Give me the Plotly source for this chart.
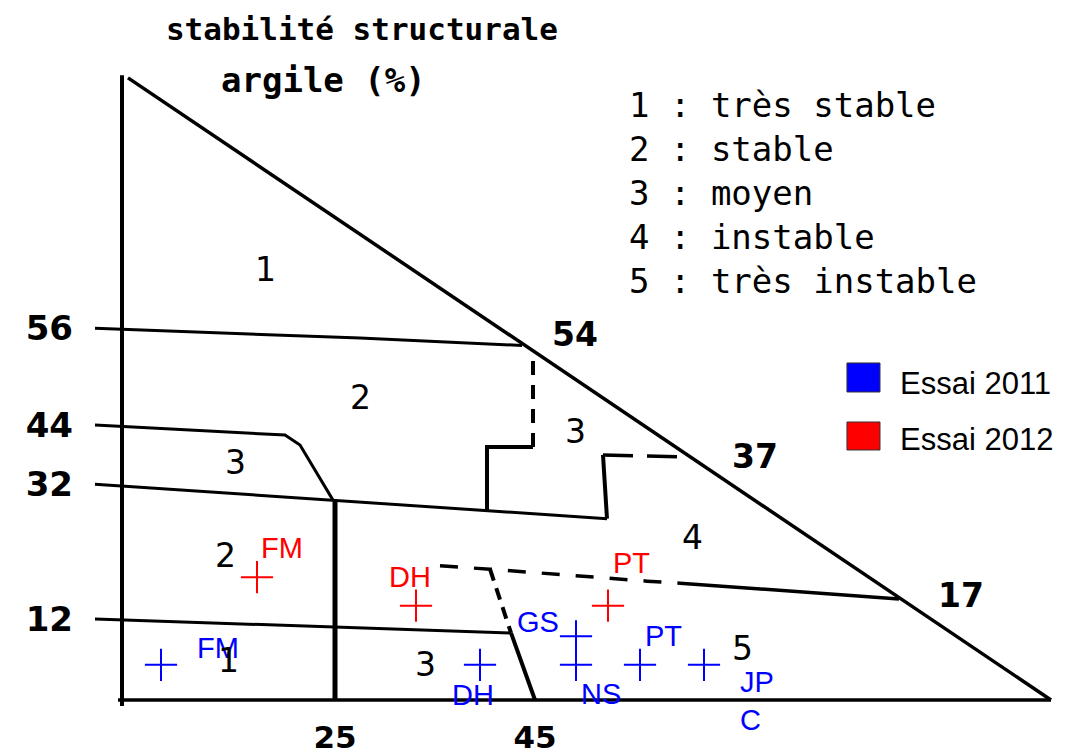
import plotly.graph_objects as go

# soil samples, limon (%) / argile (%)
sites_2011 = ["FM", "DH", "GS", "NS", "PT", "JP<br>C"]
limon_2011 = [7.6, 39.5, 49.1, 49.1, 55.5, 61.9]
argile_2011 = [5.3, 5.3, 9.6, 5.3, 5.3, 5.3]

sites_2012 = ["FM", "DH", "PT"]
limon_2012 = [17.2, 33.1, 52.3]
argile_2012 = [18.5, 14.2, 14.2]

# boundaries of the stability classes (scanned diagram, so not perfectly straight)
hyp_limon, hyp_argile = [4.3, 96.6], [93.7, 0.0]
axis_limon, axis_argile = [3.7, 3.7], [94.1, -0.9]
base_limon, base_argile = [3.3, 96.6], [0.0, 0.0]
l56_limon, l56_argile = [1.0, 27.5, 43.7], [56.0, 54.5, 53.4]
l44_limon, l44_argile = [1.0, 20.0, 21.5, 24.8], [41.4, 39.9, 38.4, 30.1]
l32_limon, l32_argile = [1.0, 25.0, 40.0, 52.2], [32.5, 30.1, 28.5, 27.3]
l12_limon, l12_argile = [1.0, 25.2, 42.6], [12.2, 11.0, 10.1]
v25_limon, v25_argile = [25.0, 25.0], [30.1, 0.0]
boxl_limon, boxl_argile = [40.2, 40.2, 44.8], [28.5, 38.1, 38.1]
boxl_dash_limon, boxl_dash_argile = [44.8, 44.8], [38.1, 52.6]
boxr_limon, boxr_argile = [52.2, 51.8], [27.3, 36.9]
boxr_dash_limon, boxr_dash_argile = [51.8, 60.2], [36.9, 36.6]
l17_dash_limon, l17_dash_argile = [35.5, 40.5, 56.2, 59.5], [20.2, 19.7, 17.9, 17.6]
l17_limon, l17_argile = [59.5, 81.4], [17.6, 15.2]
diag_dash_limon, diag_dash_argile = [40.5, 42.6], [19.7, 10.1]
diag_limon, diag_argile = [42.6, 45.0], [10.1, 0.0]

# class numbers inside the diagram
class_text = ["1", "2", "3", "3", "4", "2", "1", "3", "5"]
class_limon = [18.0, 27.5, 15.0, 49.0, 60.7, 14.0, 14.3, 34.0, 65.7]
class_argile = [64.8, 45.6, 35.8, 40.4, 24.4, 21.7, 6.0, 5.3, 7.8]

# values written along the hypotenuse
hyp_text = ["54", "37", "17"]
hyp_text_limon = [49.0, 67.0, 87.6]
hyp_text_argile = [55.0, 36.6, 15.8]

y_tickvals = [56.0, 41.4, 32.5, 12.2]
y_ticktext = ["56", "44", "32", "12"]
x_tickvals = [25, 45]
x_ticktext = ["25", "45"]

classes = ["1 : très stable", "2 : stable", "3 : moyen", "4 : instable", "5 : très instable"]

BLUE = "#0000ff"
RED = "#ff0000"
DIAG = "DejaVu Sans Mono"
NUM = "DejaVu Sans"
ARIAL = "Liberation Sans, Arial"

fig = go.Figure()


def add_line(xs, ys, width=3, dash="solid"):
    fig.add_trace(go.Scatter(
        x=xs, y=ys, mode="lines",
        line=dict(color="black", width=width, dash=dash),
        hoverinfo="skip", showlegend=False,
    ))


add_line(hyp_limon, hyp_argile, 3.5)
add_line(axis_limon, axis_argile, 4)
add_line(base_limon, base_argile, 3.5)
add_line(l56_limon, l56_argile, 3)
add_line(l44_limon, l44_argile, 3)
add_line(l32_limon, l32_argile, 3)
add_line(l12_limon, l12_argile, 3)
add_line(v25_limon, v25_argile, 5)
add_line(boxl_limon, boxl_argile, 4)
add_line(boxl_dash_limon, boxl_dash_argile, 4, "14px,10px")
add_line(boxr_limon, boxr_argile, 4)
add_line(boxr_dash_limon, boxr_dash_argile, 3.5, "30px,14px")
add_line(l17_dash_limon, l17_dash_argile, 3.5, "18px,16px")
add_line(l17_limon, l17_argile, 3.5)
add_line(diag_dash_limon, diag_dash_argile, 4, "12px,8px")
add_line(diag_limon, diag_argile, 4)

# sample crosses
for xs, ys, col in [(limon_2011, argile_2011, BLUE), (limon_2012, argile_2012, RED)]:
    fig.add_trace(go.Scatter(
        x=xs, y=ys, mode="markers",
        marker=dict(symbol="cross-thin", size=23, line=dict(color=col, width=2)),
        showlegend=False,
    ))

# sample labels, offsets in px
shift_2011 = {"FM": (57, 17), "DH": (-7, -30), "GS": (-38, 14), "NS": (25, -29),
              "PT": (23, 29), "JP<br>C": (53, -36)}
shift_2012 = {"FM": (25, 29), "DH": (-6, 29), "PT": (23, 43)}

for sites, xs, ys, col, shifts in [
    (sites_2011, limon_2011, argile_2011, BLUE, shift_2011),
    (sites_2012, limon_2012, argile_2012, RED, shift_2012),
]:
    for s, x, y in zip(sites, xs, ys):
        dx, dy = shifts[s]
        fig.add_annotation(
            x=x, y=y, text=s, showarrow=False, xshift=dx, yshift=dy,
            align="left", font=dict(family=ARIAL, size=29, color=col),
        )

for t, x, y in zip(class_text, class_limon, class_argile):
    fig.add_annotation(x=x, y=y, text=t, showarrow=False,
                       font=dict(family=NUM, size=33, color="black"))

for t, x, y in zip(hyp_text, hyp_text_limon, hyp_text_argile):
    fig.add_annotation(x=x, y=y, text=t, showarrow=False,
                       font=dict(family=NUM, size=33, color="black", weight="bold"))

# axis names
fig.add_annotation(x=23.8, y=93.4, text="argile (%)", showarrow=False,
                   font=dict(family=DIAG, size=34, color="black", weight="bold"))
fig.add_annotation(x=84.0, y=-5.6, text="limons (%)", showarrow=False,
                   font=dict(family=DIAG, size=35, color="black", weight="bold"))

# class list, top right
for i, c in enumerate(classes):
    fig.add_annotation(
        xref="paper", yref="paper", x=0.556, y=0.945 - i * 0.069,
        xanchor="left", yanchor="middle", text=c, showarrow=False,
        font=dict(family=DIAG, size=34, color="black"),
    )

# legend with big squares
for (y0, y1, col, name, ty) in [
    (0.4953, 0.5408, BLUE, "Essai 2011", 0.5094),
    (0.4044, 0.4483, RED, "Essai 2012", 0.4201),
]:
    fig.add_shape(type="rect", xref="paper", yref="paper",
                  x0=0.7836, x1=0.8178, y0=y0, y1=y1,
                  fillcolor=col, line=dict(color="#333333", width=1))
    fig.add_annotation(xref="paper", yref="paper", x=0.8364, y=ty,
                       xanchor="left", yanchor="middle", text=name, showarrow=False,
                       font=dict(family=ARIAL, size=31, color="black"))

# the page adds an 8px body margin, so the plot box is pulled up-left by 8px
fig.update_layout(
    width=1066, height=753,
    margin=dict(l=82, r=18, t=62, b=53),
    paper_bgcolor="white", plot_bgcolor="white",
    title=dict(
        text="stabilité structurale", x=0.332, y=0.972,
        xanchor="center", yanchor="middle",
        font=dict(family=DIAG, size=31, color="black", weight="bold"),
    ),
    xaxis=dict(
        range=[0.5, 97.1], showgrid=False, zeroline=False, showline=False,
        tickvals=x_tickvals, ticktext=x_ticktext, ticks="", ticklabelstandoff=8,
        automargin=False,
        tickfont=dict(family=NUM, size=31, color="black", weight="bold"),
    ),
    yaxis=dict(
        range=[-1.205, 94.88], showgrid=False, zeroline=False, showline=False,
        tickvals=y_tickvals, ticktext=y_ticktext, ticks="", ticklabelstandoff=16,
        automargin=False,
        tickfont=dict(family=NUM, size=34, color="black", weight="bold"),
    ),
    showlegend=False,
)

fig.write_html("out.html")
